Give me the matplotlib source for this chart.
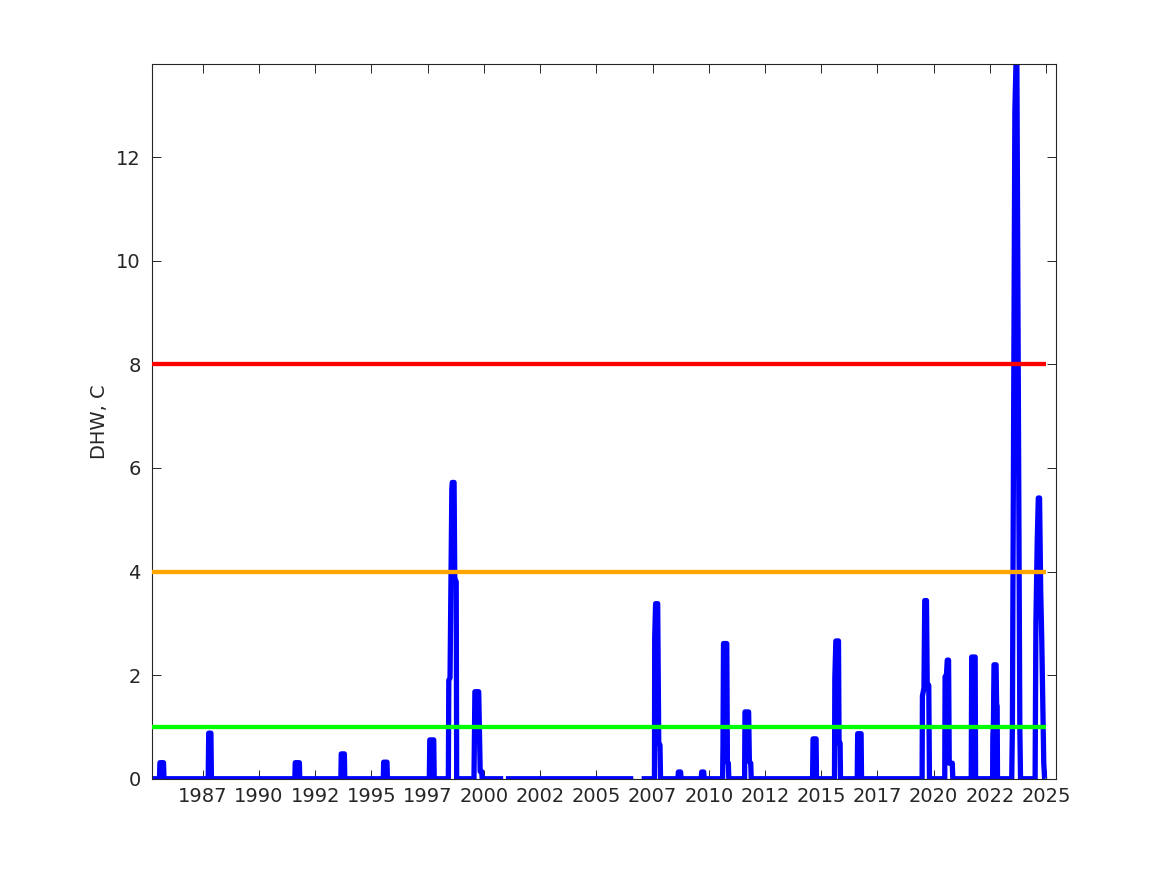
import numpy as np
import matplotlib
matplotlib.use("Agg")
import matplotlib.pyplot as plt

nan = np.nan

# weekly DHW record, vertices (decimal years, degC-weeks)
dhw_time = [
    1985.23,
    1985.575, 1985.595, 1985.755, 1985.775,
    1987.742, 1987.764, 1987.863, 1987.885,
    1991.594, 1991.612, 1991.795, 1991.813,
    1993.641, 1993.658, 1993.797, 1993.815,
    1995.527, 1995.544, 1995.692, 1995.710,
    1997.573, 1997.595, 1997.770, 1997.792,
    1998.420, 1998.440, 1998.495, 1998.575, 1998.595, 1998.675, 1998.705, 1998.770, 1998.790,
    1999.560, 1999.600, 1999.770, 1999.835, 1999.900, 1999.925,
    2000.858, 2000.920, 2000.979,
    2006.642, 2006.800, 2007.015,
    2007.585, 2007.595, 2007.635, 2007.728, 2007.775, 2007.830, 2007.855,
    2008.625, 2008.648, 2008.746, 2008.768,
    2009.662, 2009.684, 2009.774, 2009.796,
    2010.615, 2010.630, 2010.655, 2010.800, 2010.828, 2010.870, 2010.890,
    2011.592, 2011.610, 2011.772, 2011.805, 2011.865, 2011.888,
    2014.615, 2014.635, 2014.771, 2014.790,
    2015.590, 2015.605, 2015.650, 2015.768, 2015.792, 2015.838, 2015.858,
    2016.600, 2016.620, 2016.773, 2016.792,
    2019.485, 2019.500, 2019.568, 2019.603, 2019.680, 2019.712, 2019.782, 2019.812,
    2020.492, 2020.507, 2020.568, 2020.604, 2020.662, 2020.692, 2020.828, 2020.850,
    2021.670, 2021.690, 2021.844, 2021.864,
    2022.620, 2022.630, 2022.658, 2022.682, 2022.775, 2022.798, 2022.822, 2022.838,
    2023.470, 2023.500, 2023.610, 2023.660, 2023.700, 2023.830, 2023.862,
    2024.510, 2024.545, 2024.605, 2024.652, 2024.708, 2024.760, 2024.805, 2024.895, 2024.932,
    2024.980,
]
dhw_value = [
    0,
    0, 0.31, 0.31, 0,
    0, 0.88, 0.88, 0,
    0, 0.31, 0.31, 0,
    0, 0.48, 0.48, 0,
    0, 0.32, 0.32, 0,
    0, 0.75, 0.75, 0,
    0, 1.90, 1.95, 5.60, 5.72, 5.72, 3.87, 3.80, 0,
    0, 1.68, 1.68, 0.14, 0.14, 0,
    0, nan, 0,
    0, nan, 0,
    0, 2.72, 3.38, 3.38, 0.69, 0.65, 0,
    0, 0.13, 0.13, 0,
    0, 0.13, 0.13, 0,
    0, 0.60, 2.61, 2.61, 0.33, 0.30, 0,
    0, 1.29, 1.29, 0.33, 0.30, 0,
    0, 0.77, 0.77, 0,
    0, 1.95, 2.66, 2.66, 0.69, 0.69, 0,
    0, 0.87, 0.87, 0,
    0, 1.60, 1.75, 3.44, 3.44, 1.85, 1.80, 0,
    0, 1.97, 2.00, 2.29, 2.29, 0.30, 0.30, 0,
    0, 2.35, 2.35, 0,
    0, 0.80, 1.10, 2.20, 2.20, 1.45, 1.40, 0,
    0, 1.00, 12.90, 13.80, 13.80, 1.00, 0,
    0, 3.00, 4.60, 5.42, 5.42, 3.60, 2.70, 0.30, 0,
    0,
]

thresholds = [1, 4, 8]
threshold_colors = ['#00ff00', '#ffa500', '#ff0000']

tick_years = [1987.5 + 2.5 * k for k in range(16)]
tick_labels = ['1987', '1990', '1992', '1995', '1997', '2000', '2002', '2005',
               '2007', '2010', '2012', '2015', '2017', '2020', '2022', '2025']

txt = '#262626'
plt.rcParams['font.family'] = ['DejaVu Sans']

fig = plt.figure(figsize=(11.67, 8.75), dpi=100)
ax = fig.add_axes([0.13, 0.11, 0.775, 0.817])

t = np.array(dhw_time)
d = np.array(dhw_value)
ax.plot(t, d, color='#0000ff', lw=3.8, solid_capstyle='butt',
        solid_joinstyle='round', zorder=2)

# bleaching alert levels
for lev, col in zip(thresholds, threshold_colors):
    ax.plot([t[0], t[-1]], [lev, lev], color=col, lw=3.1,
            solid_capstyle='butt', zorder=3)

ax.set_xlim(1985.23, 2025.445)
ax.set_ylim(0, 13.8)
ax.set_xticks(tick_years)
ax.set_xticklabels(tick_labels)
ax.set_yticks(range(0, 13, 2))

ax.tick_params(direction='in', length=6.5, width=0.7, colors=txt,
               labelsize=14, top=True, right=True)
ax.tick_params(axis='x', pad=6)
ax.tick_params(axis='y', pad=8)
for s in ax.spines.values():
    s.set_color(txt)
    s.set_linewidth(0.8)

ax.set_ylabel('DHW, C', fontsize=14, color=txt, labelpad=5)

fig.savefig('out.png', dpi=100)
